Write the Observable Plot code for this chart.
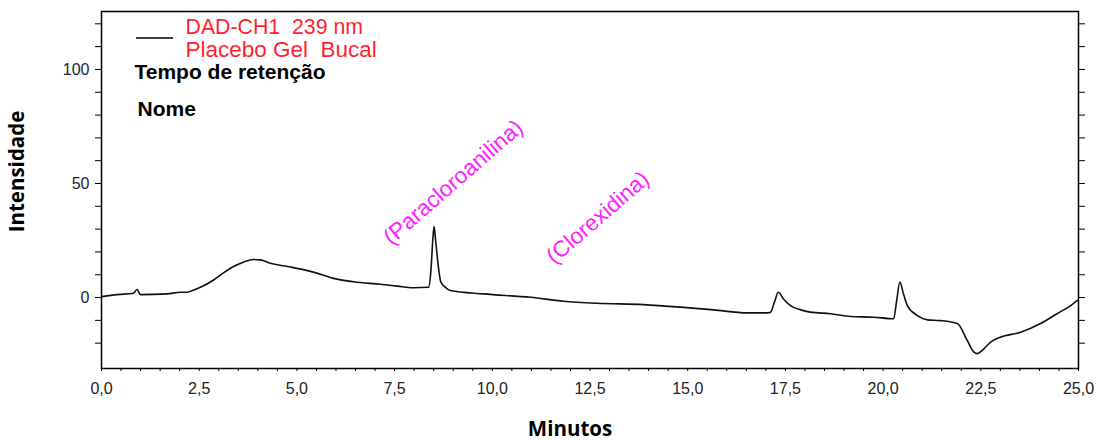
<!DOCTYPE html>
<html>
<head>
<meta charset="utf-8">
<script src="https://cdn.jsdelivr.net/npm/d3@7"></script>
<script src="https://cdn.jsdelivr.net/npm/@observablehq/plot@0.6"></script>
<style>
  html, body { margin: 0; padding: 0; background: white; }
  svg text { white-space: pre; }
</style>
</head>
<body>
<div id="chart"></div>
<script>
// Chromatogram trace (retention time in minutes, intensity)
const times = [0.02, 0.40, 0.82, 0.91, 1.00, 1.68, 2.02, 2.19, 2.28, 2.53, 2.87, 3.12, 3.38, 3.63, 3.89, 4.07, 4.32, 4.76, 5.27, 5.68, 5.94, 6.45, 7.14, 7.57, 7.98, 8.37, 8.43, 8.48, 8.51, 8.55, 8.61, 8.68, 8.80, 8.93, 9.78, 10.98, 11.82, 12.67, 13.87, 14.82, 15.66, 16.53, 17.04, 17.12, 17.22, 17.32, 17.45, 17.63, 17.89, 18.14, 18.65, 19.17, 19.75, 20.27, 20.35, 20.43, 20.52, 20.62, 20.88, 21.14, 21.47, 21.90, 22.15, 22.32, 22.41, 22.54, 22.75, 23.00, 23.52, 24.03, 24.45, 24.80, 24.97];
const signal = [0.4, 1.3, 1.9, 3.5, 1.3, 1.6, 2.3, 2.3, 2.8, 4.5, 7.7, 10.8, 13.6, 15.5, 16.7, 16.5, 15.0, 13.6, 11.8, 9.8, 8.4, 6.9, 5.8, 5.0, 4.3, 4.5, 12.0, 26.0, 31.1, 25.0, 15.0, 7.0, 4.5, 3.1, 1.6, 0.1, -1.6, -2.5, -3.1, -4.2, -5.4, -6.7, -6.7, -6.4, -2.0, 2.3, -0.6, -3.5, -5.4, -6.4, -7.1, -8.3, -8.6, -9.3, -1.0, 6.8, 1.7, -3.5, -7.9, -9.8, -10.1, -11.4, -18.7, -23.8, -24.6, -23.1, -19.5, -17.4, -15.2, -11.4, -7.1, -3.5, -1.2];

// Axis ticks and labels
const xMinorTicks = d3.range(0, 25.001, 0.5);
const xLabelTicks = d3.range(0, 25.001, 2.5);
const yMinorTicks = d3.range(-20, 120.001, 10);
const yLabelTicks = [0, 50, 100];
const xTitle = "Minutos";
const yTitle = "Intensidade";

// Header texts
const channelLines = ["DAD-CH1  239 nm", "Placebo Gel  Bucal"];
const headingLines = ["Tempo de retenção", "Nome"];

// Peak annotations
const peakNames = ["(Paracloroanilina)", "(Clorexidina)"];
const peakTimes = [9.0, 12.7];
const peakLevels = [50.5, 35];

const rows = times.map((t, i) => ({t, s: signal[i]}));
const fmt = d => d.toFixed(1).replace(".", ",");

const legendSwatch = (index, scales, values, dims) => {
  const g = d3.create("svg:line")
    .attr("x1", dims.marginLeft + 35)
    .attr("x2", dims.marginLeft + 72)
    .attr("y1", dims.marginTop + 27)
    .attr("y2", dims.marginTop + 27)
    .attr("stroke", "black")
    .attr("stroke-width", 1.5);
  return g.node();
};

const chart = Plot.plot({
  width: 1103,
  height: 440,
  marginLeft: 101,
  marginRight: 25,
  marginTop: 11,
  marginBottom: 72,
  style: {fontFamily: "'Liberation Sans', Arial, sans-serif", background: "white", color: "black"},
  x: {domain: [0, 25]},
  y: {domain: [-31.1, 125.4]},
  marks: [
    Plot.axisX(xMinorTicks, {tickSize: 3, tickFormat: () => "", label: null, strokeWidth: 1}),
    Plot.axisX(xLabelTicks, {tickSize: 0, tickPadding: 14, tickFormat: fmt, label: null, fontSize: 16, fill: "#222"}),
    Plot.axisY(yMinorTicks, {anchor: "left", tickSize: 6, tickFormat: () => "", label: null}),
    Plot.axisY(yMinorTicks, {anchor: "right", tickSize: 6, tickFormat: () => "", label: null}),
    Plot.axisY(yLabelTicks, {anchor: "left", tickSize: 0, tickPadding: 12, tickFormat: d => String(d), label: null, fontSize: 16, fill: "#223"}),
    Plot.frame({stroke: "black", strokeWidth: 1.5}),
    Plot.line(rows, {x: "t", y: "s", stroke: "#111", strokeWidth: 1.6, curve: "monotone-x"}),
    Plot.text(peakNames, {x: (d, i) => peakTimes[i], y: (d, i) => peakLevels[i], text: d => d, rotate: -41, fill: "#ff20ff", fontSize: 22.5}),
    Plot.text([channelLines[0]], {frameAnchor: "top-left", dx: 84, dy: 22, textAnchor: "start", lineAnchor: "bottom", fill: "#ff1f2f", fontSize: 21.3}),
    Plot.text([channelLines[1]], {frameAnchor: "top-left", dx: 84, dy: 45.5, textAnchor: "start", lineAnchor: "bottom", fill: "#ff1f2f", fontSize: 22.5}),
    Plot.text([headingLines[0]], {frameAnchor: "top-left", dx: 33, dy: 67, textAnchor: "start", lineAnchor: "bottom", fill: "black", fontWeight: "bold", fontSize: 21}),
    Plot.text([headingLines[1]], {frameAnchor: "top-left", dx: 36, dy: 104, textAnchor: "start", lineAnchor: "bottom", fill: "black", fontWeight: "bold", fontSize: 21}),
    Plot.text([xTitle], {frameAnchor: "bottom", dx: -20, dy: 67, textAnchor: "middle", lineAnchor: "bottom", fill: "black", fontWeight: "bold", fontSize: 20.5, fontFamily: "'Open Sans', sans-serif"}),
    Plot.text([yTitle], {frameAnchor: "left", dx: -84, dy: -18.5, textAnchor: "middle", rotate: -90, fill: "black", fontWeight: "bold", fontSize: 20.5, fontFamily: "'Open Sans', sans-serif"}),
    legendSwatch
  ]
});
document.getElementById("chart").appendChild(chart);
</script>
</body>
</html>
